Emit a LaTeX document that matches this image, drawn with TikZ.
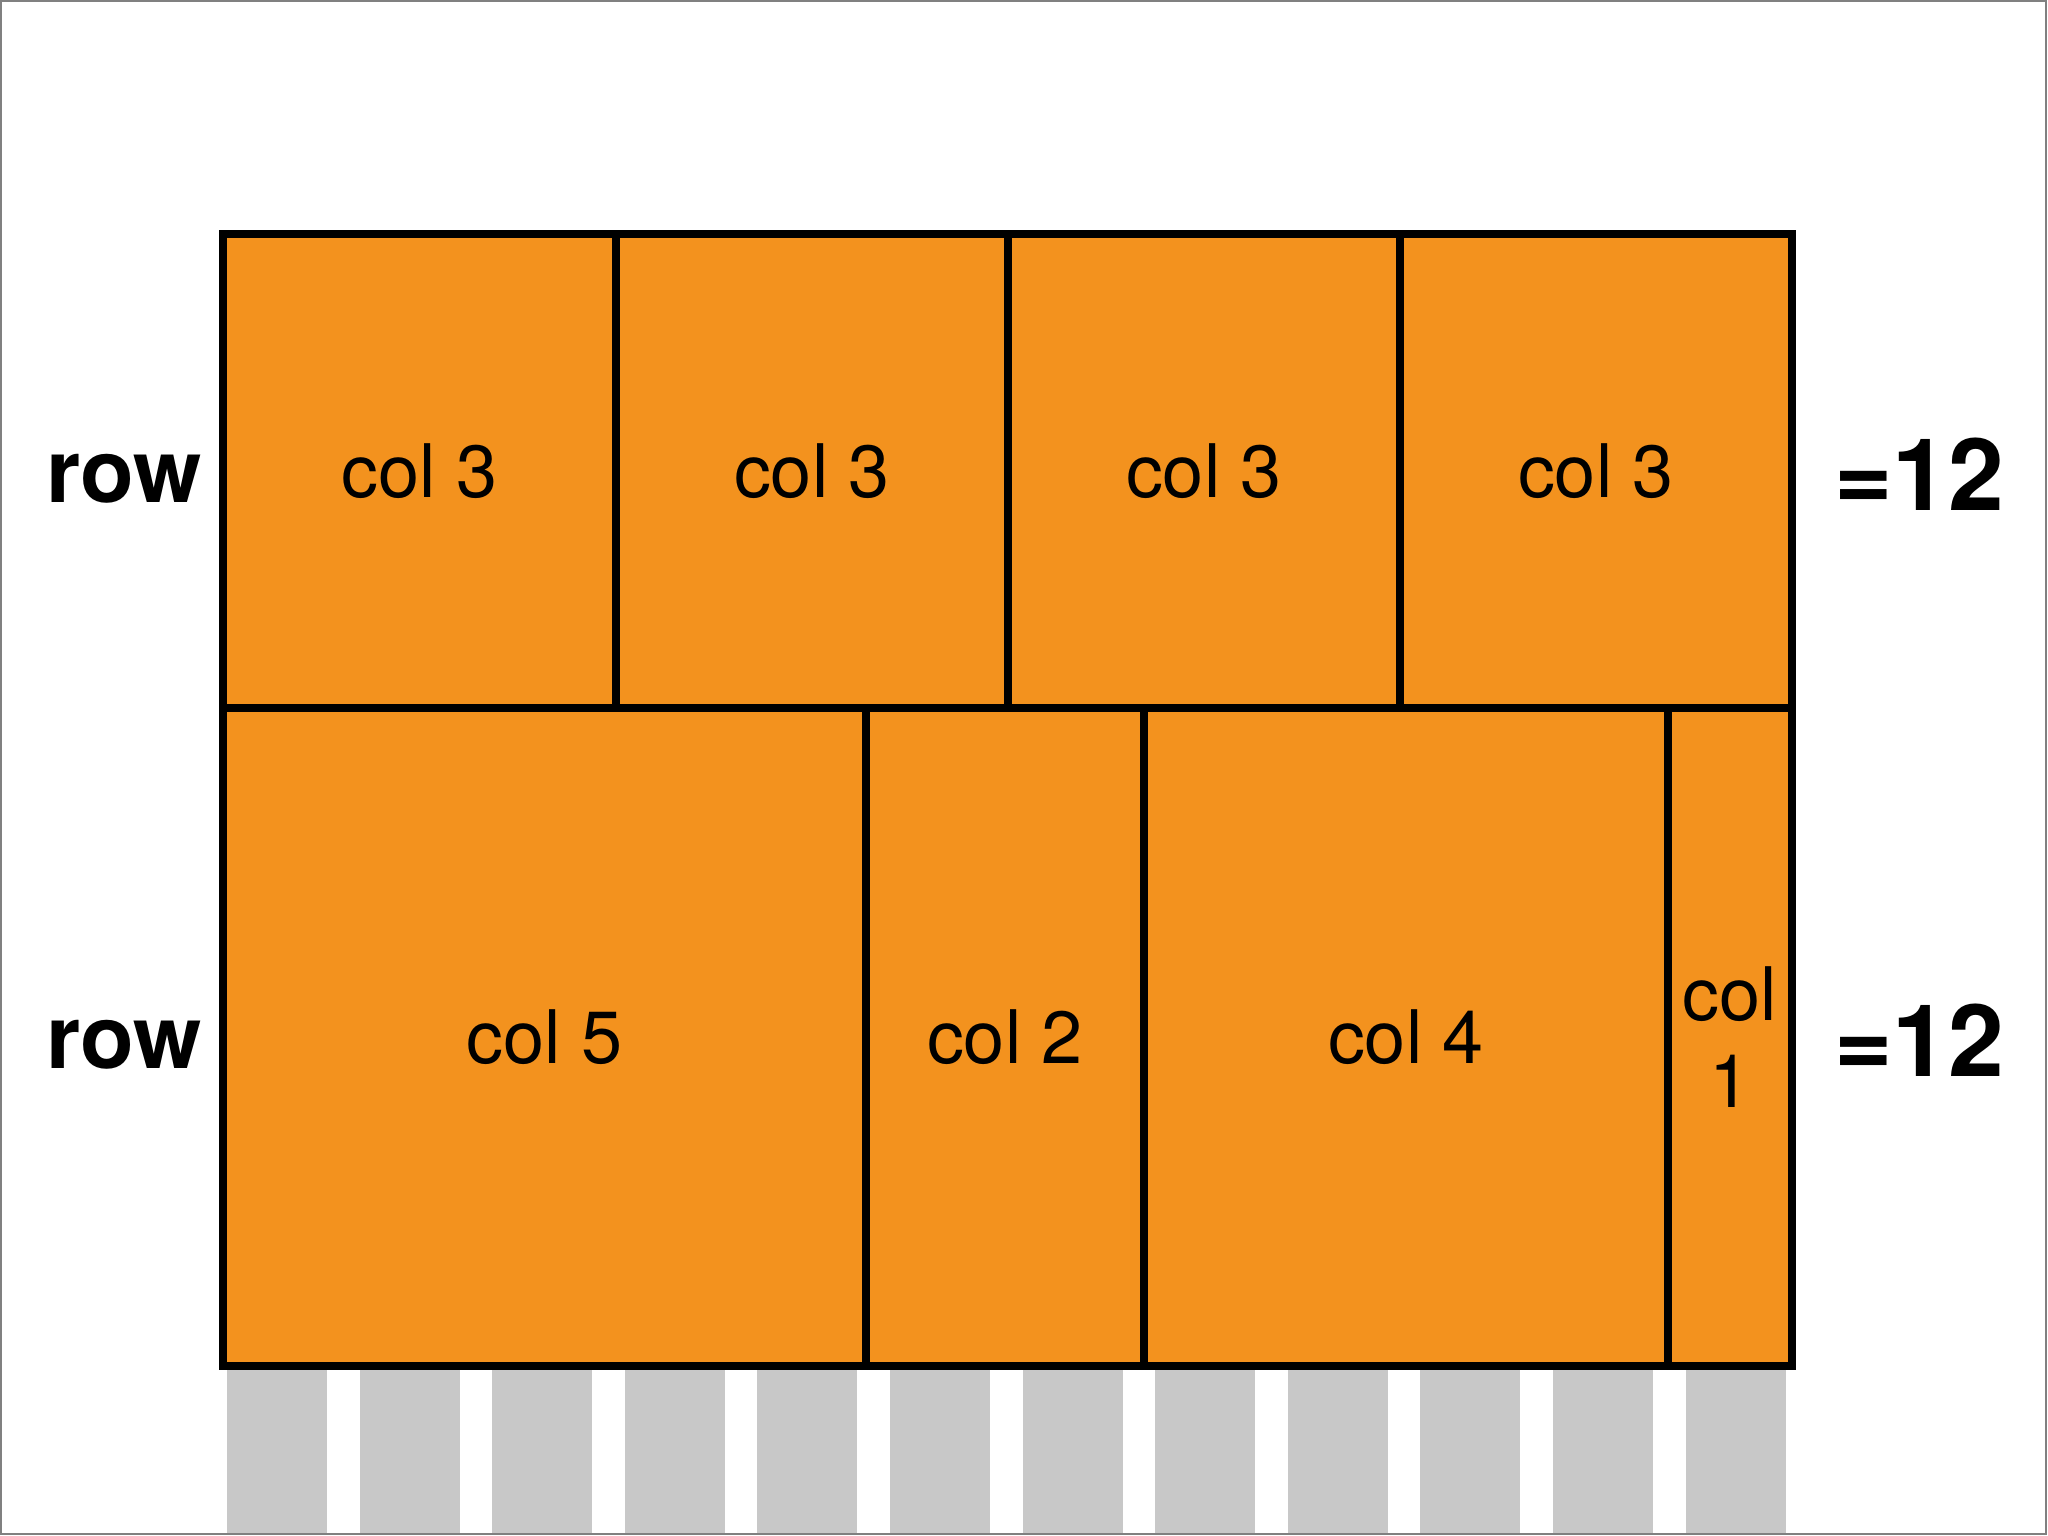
\documentclass[tikz,border=0pt]{standalone}
\usepackage{fontspec}
\setmainfont{TeX Gyre Heros}
\usepackage{tikz}
\usetikzlibrary{positioning}

\definecolor{boxorange}{RGB}{243,146,30}
\definecolor{bargray}{RGB}{200,200,200}
\definecolor{framegray}{RGB}{128,128,128}

\begin{document}
\begin{tikzpicture}[
            x=0.01cm, y=-0.01cm,
            cell/.style={rectangle, draw=black, fill=boxorange, line width=0.08cm, inner sep=0pt,
                align=center, font=\fontsize{21pt}{24.5pt}\selectfont},
            toprow/.style={cell, minimum height=4.74cm},
            bottomrow/.style={cell, minimum height=6.58cm},
            rowname/.style={anchor=base, font=\fontsize{25pt}{29pt}\selectfont\bfseries},
            rowsum/.style={anchor=base, font=\fontsize{28.5pt}{33pt}\selectfont\bfseries},
            colbar/.style={fill=bargray, draw=none},
        ]
            \useasboundingbox (0,0) rectangle (2048,1536);

            % Grid columns
            \foreach \i in {0,...,11}
                \fill[colbar] ({227+132.6*\i},1366) rectangle +(100,168);

            % First row
            \node[toprow, minimum width=3.93cm] (a1) at (419.5,471) {col 3};
            \node[toprow, minimum width=3.92cm] (a2) at (812,471) {col 3};
            \node[toprow, minimum width=3.92cm] (a3) at (1204,471) {col 3};
            \node[toprow, minimum width=3.92cm] (a4) at (1596,471) {col 3};

            % Second row
            \node[bottomrow, minimum width=6.43cm] (b1) at (544.5,1037) {col 5};
            \node[bottomrow, minimum width=2.78cm] (b2) at (1005,1037) {col 2};
            \node[bottomrow, minimum width=5.24cm] (b3) at (1406,1037) {col 4};
            \node[bottomrow, minimum width=1.24cm] (b4) at (1730,1037) {col\\1};

            % Labels
            \node[rowname] (rowa) at (124,502) {row};
            \node[rowname] (rowb) at (124,1068) {row};
            \node[rowsum] (suma) at (1919,510) {=12};
            \node[rowsum] (sumb) at (1919,1076) {=12};

            % Frame
            \draw[framegray, line width=0.02cm] (1,1) rectangle (2046,1534);
        \end{tikzpicture}
\end{document}
